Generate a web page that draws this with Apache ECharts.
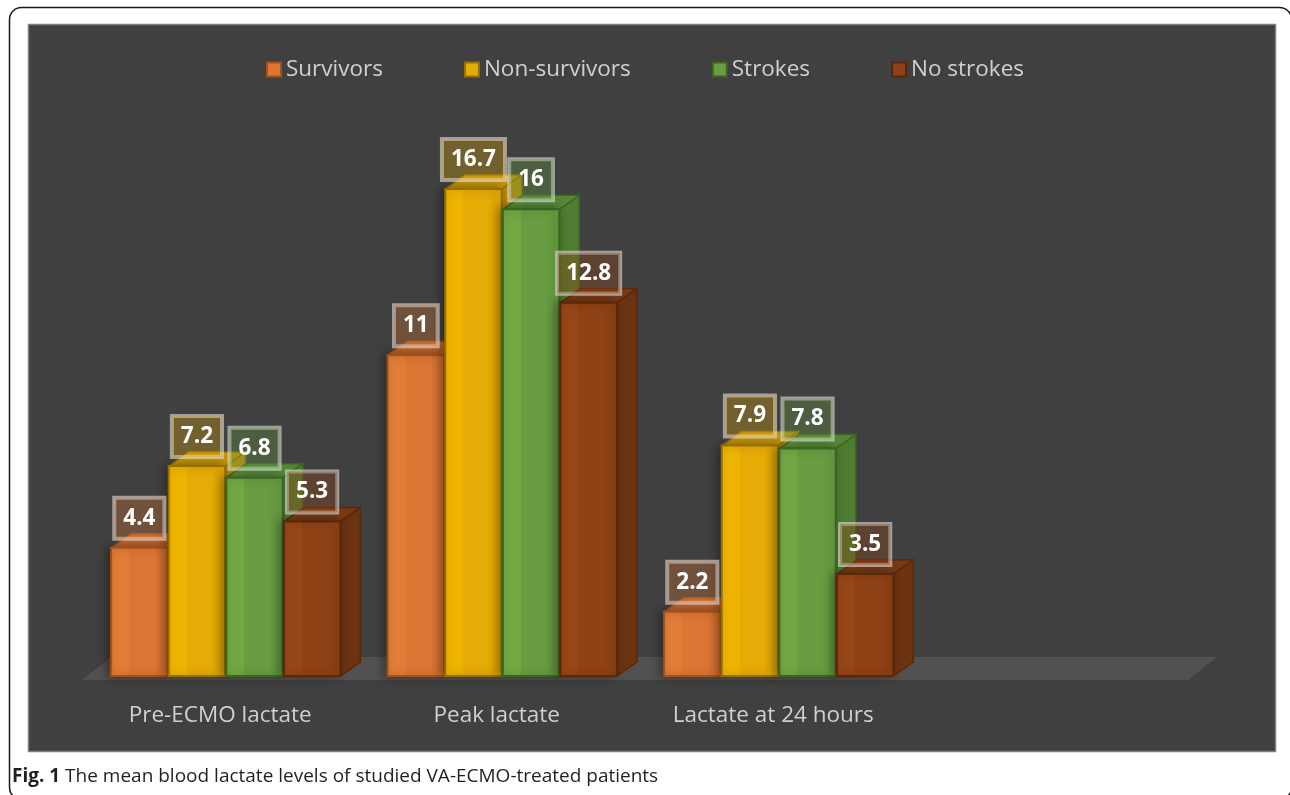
<!DOCTYPE html>
<html>
<head>
<meta charset="utf-8">
<script src="https://cdn.jsdelivr.net/npm/echarts@6/dist/echarts.min.js"></script>
<style>
html,body{margin:0;padding:0;background:#fff;}
#c{width:1290px;height:795px;}
</style>
</head>
<body>
<div id="c"></div>
<script>
// ---- data ----
const categories = ['Pre-ECMO lactate', 'Peak lactate', 'Lactate at 24 hours', ''];
const seriesNames = ['Survivors', 'Non-survivors', 'Strokes', 'No strokes'];
const survivors = [4.4, 11, 2.2, null];
const nonSurvivors = [7.2, 16.7, 7.9, null];
const strokes = [6.8, 16, 7.8, null];
const noStrokes = [5.3, 12.8, 3.5, null];

// ---- styles ----
const FONT = '"Open Sans", "Noto Sans", sans-serif';
const palette = [
  {front: '#dc7634', light: '#e27d38', side: '#b45a22', top: '#c4652a', border: '#a8501a', label: 'rgba(221,122,53,0.30)'},
  {front: '#e6ac06', light: '#efb402', side: '#b88a06', top: '#c99705', border: '#957000', label: 'rgba(232,174,8,0.30)'},
  {front: '#689d41', light: '#72a843', side: '#4e7d31', top: '#558a37', border: '#3c6524', label: 'rgba(107,158,66,0.32)'},
  {front: '#8f4215', light: '#974617', side: '#6c3311', top: '#7a3913', border: '#5a2808', label: 'rgba(145,67,21,0.36)'}
];
const GRID = {left: 82, right: 102, top: 151, bottom: 119};
const DX = 20, DY = 14;

function makeRender(si) {
  return function (params, api) {
    const ci = api.value(0), v = api.value(1);
    const base = api.coord([ci, 0]);
    const top = api.coord([ci, v]);
    const band = api.size([1, 0])[0];
    const bw = band * 0.204;
    const pitch = bw + 1.2;
    const x0 = base[0] + 5.5 + (si - 2) * pitch + 0.6;
    const x1 = x0 + bw;
    const y0 = base[1], yt = top[1];
    const c = palette[si];
    const zb = si * 4;
    return {
      type: 'group',
      children: [
        {type: 'polygon', z2: zb + 1, shape: {points: [[x1, y0], [x1 + DX, y0 - DY], [x1 + DX, yt - DY], [x1, yt]]},
          style: {fill: c.side, stroke: c.border, lineWidth: 1.5}},
        {type: 'polygon', z2: zb + 2, shape: {points: [[x0, yt], [x1, yt], [x1 + DX, yt - DY], [x0 + DX, yt - DY]]},
          style: {fill: c.top, stroke: c.border, lineWidth: 1.5, opacity: 0.95}},
        {type: 'rect', z2: zb + 3, shape: {x: x0, y: yt, width: bw, height: y0 - yt},
          style: {
            fill: {type: 'linear', x: 0, y: 0, x2: 1, y2: 0, colorStops: [
              {offset: 0, color: c.light}, {offset: 0.32, color: c.light},
              {offset: 0.33, color: c.front}, {offset: 1, color: c.front}]},
            stroke: c.border, lineWidth: 2,
            shadowBlur: 10, shadowColor: 'rgba(0,0,0,0.35)', shadowOffsetX: -3
          }},
        {type: 'text', z2: 100, style: {
          x: x0 + bw / 2, y: yt - 9, text: String(v), align: 'center', verticalAlign: 'bottom',
          font: 'bold 22.5px ' + FONT, fill: '#ffffff',
          backgroundColor: c.label, borderColor: 'rgba(225,225,225,0.6)', borderWidth: 2,
          padding: [9, 9, 9, 9]
        }}
      ]
    };
  };
}

function toData(arr) {
  const out = [];
  arr.forEach((v, i) => { if (v !== null) out.push([i, v]); });
  return out;
}

const allValues = [survivors, nonSurvivors, strokes, noStrokes];
const series = allValues.map((arr, si) => ({
  type: 'custom',
  name: seriesNames[si],
  renderItem: makeRender(si),
  itemStyle: {color: palette[si].front, borderColor: palette[si].border, borderWidth: 1.5},
  encode: {x: 0, y: 1},
  data: toData(arr),
  clip: false
}));

// floor and frame geometry (derived from grid)
const W = 1290, H = 795;
const gx0 = GRID.left, gx1 = W - GRID.right, gy0 = H - GRID.bottom;

const chart = echarts.init(document.getElementById('c'), null, {renderer: 'canvas'});
chart.setOption({
  backgroundColor: '#ffffff',
  animation: false,
  grid: GRID,
  legend: {
    top: 53, left: 'center', itemGap: 81, itemWidth: 14, itemHeight: 14, icon: 'rect',
    textStyle: {color: '#d0d0d0', fontSize: 22.5, fontFamily: FONT},
    data: seriesNames
  },
  xAxis: {
    type: 'category', data: categories,
    axisLine: {show: false}, axisTick: {show: false},
    axisLabel: {color: '#d0d0d0', fontSize: 22.5, fontFamily: FONT, margin: 28, interval: 0},
    splitLine: {show: false}
  },
  yAxis: {type: 'value', min: 0, max: 18, show: false, splitLine: {show: false}},
  graphic: [
    {type: 'rect', z: -10, silent: true, shape: {x: 9.5, y: 7.5, width: 1282, height: 792, r: 12},
      style: {fill: '#ffffff', stroke: '#1a1a1a', lineWidth: 1.5}},
    {type: 'rect', z: -9, silent: true, shape: {x: 28.5, y: 24.5, width: 1247, height: 727},
      style: {fill: '#404040', stroke: '#7f7f7f', lineWidth: 1.5}},
    {type: 'polygon', z: -8, silent: true,
      shape: {points: [[gx0, gy0 + 4], [gx1, gy0 + 4], [gx1 + 29, gy0 - 19], [gx0 + 29, gy0 - 19]]},
      style: {fill: '#53514f'}},
    {type: 'text', z: 10, silent: true, style: {
      x: 12, y: 777, verticalAlign: 'middle',
      text: '{b|Fig. 1} The mean blood lactate levels of studied VA-ECMO-treated patients',
      font: '19px ' + FONT, fill: '#231f20',
      rich: {b: {fontWeight: 'bold', fontSize: 19, fontFamily: FONT, fill: '#231f20'}}
    }}
  ],
  series: series
});
</script>
</body>
</html>
